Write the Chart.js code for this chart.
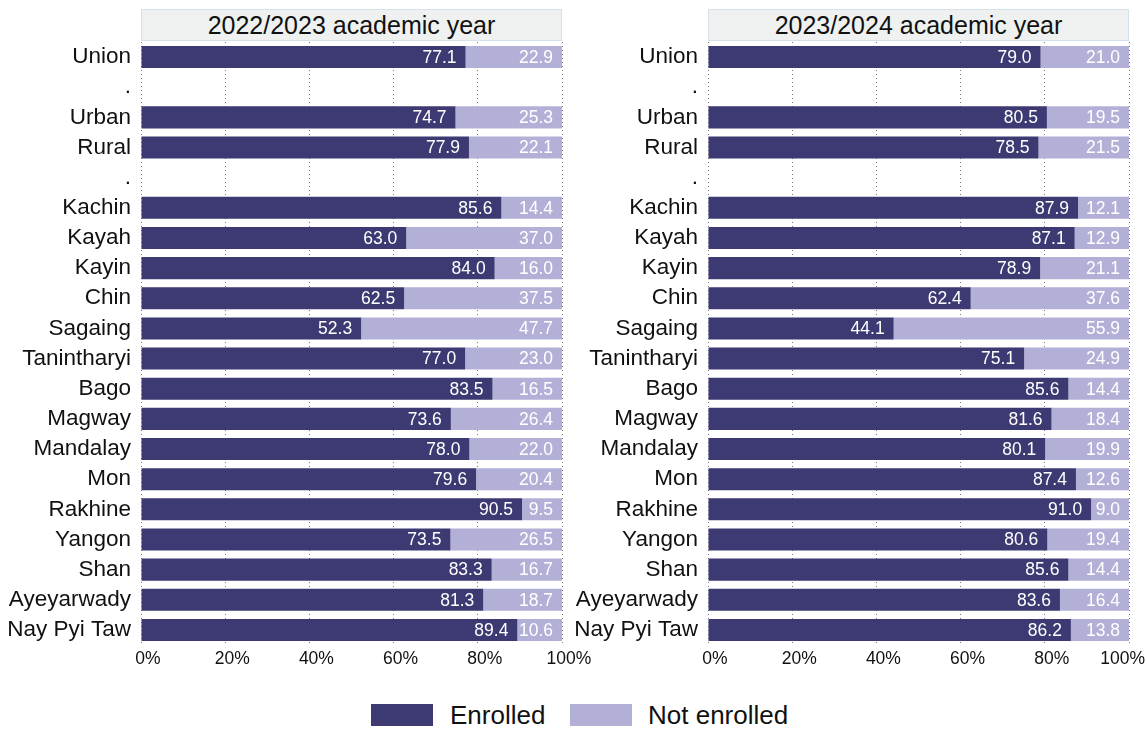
<!DOCTYPE html>
<html>
<head>
<meta charset="utf-8">
<script src="https://cdn.jsdelivr.net/npm/chart.js@4"></script>
<style>
  html, body { margin: 0; padding: 0; background: #ffffff; overflow: hidden; width: 1147px; height: 733px; }
  body { position: relative; font-family: "Liberation Sans", Arial, sans-serif; color: #111; }
  canvas { position: absolute; top: 0; }
  .panel-title {
    position: absolute; top: 9px; width: 419px; height: 30px;
    background: #eff1f0; border: 1px solid #d4e3e9;
    font-size: 25px; line-height: 31px; text-align: center;
  }
  .legend { position: absolute; top: 702px; left: 0; width: 1147px; font-size: 26px; }
  .legend .box { position: absolute; top: 2px; width: 62px; height: 22px; }
  .legend .txt { position: absolute; top: -2px; line-height: 30px; }
</style>
</head>
<body>
<div class="panel-title" style="left:141px">2022/2023 academic year</div>
<div class="panel-title" style="left:708px">2023/2024 academic year</div>
<canvas id="chartLeft" width="600" height="680" style="left:0px"></canvas>
<canvas id="chartRight" width="600" height="680" style="left:567px"></canvas>
<div class="legend">
  <div class="box" style="left:371px;background:#3d3a73"></div>
  <div class="txt" style="left:450px">Enrolled</div>
  <div class="box" style="left:570px;background:#b3b0d8"></div>
  <div class="txt" style="left:648px">Not enrolled</div>
</div>
<script>
// rows, with "." as empty spacer rows
const regions = ['Union', '.', 'Urban', 'Rural', '.', 'Kachin', 'Kayah', 'Kayin', 'Chin', 'Sagaing',
  'Tanintharyi', 'Bago', 'Magway', 'Mandalay', 'Mon', 'Rakhine', 'Yangon', 'Shan', 'Ayeyarwady', 'Nay Pyi Taw'];

// 2022/2023 (%)
const enrolled2022 = [77.1, null, 74.7, 77.9, null, 85.6, 63.0, 84.0, 62.5, 52.3,
  77.0, 83.5, 73.6, 78.0, 79.6, 90.5, 73.5, 83.3, 81.3, 89.4];
const notEnrolled2022 = [22.9, null, 25.3, 22.1, null, 14.4, 37.0, 16.0, 37.5, 47.7,
  23.0, 16.5, 26.4, 22.0, 20.4, 9.5, 26.5, 16.7, 18.7, 10.6];

// 2023/2024 (%)
const enrolled2023 = [79.0, null, 80.5, 78.5, null, 87.9, 87.1, 78.9, 62.4, 44.1,
  75.1, 85.6, 81.6, 80.1, 87.4, 91.0, 80.6, 85.6, 83.6, 86.2];
const notEnrolled2023 = [21.0, null, 19.5, 21.5, null, 12.1, 12.9, 21.1, 37.6, 55.9,
  24.9, 14.4, 18.4, 19.9, 12.6, 9.0, 19.4, 14.4, 16.4, 13.8];

const xTicks = [0, 20, 40, 60, 80, 100];

const DARK = '#3d3a73';
const LIGHT = '#b3b0d8';
const FONT = '"Liberation Sans", Arial, sans-serif';

// writes each value at the right end of its segment
const barLabels = {
  id: 'barLabels',
  afterDatasetsDraw(chart) {
    const ctx = chart.ctx;
    ctx.save();
    ctx.font = '17.5px ' + FONT;
    ctx.fillStyle = '#ffffff';
    ctx.textAlign = 'right';
    ctx.textBaseline = 'middle';
    chart.data.datasets.forEach((ds, i) => {
      chart.getDatasetMeta(i).data.forEach((bar, j) => {
        const v = ds.data[j];
        if (v == null) return;
        ctx.fillText(v.toFixed(1), bar.x - 9, bar.y + 1);
      });
    });
    ctx.restore();
  }
};

// pulls an x tick label back inside the page when it would run past the edge
function keepTicksInside(maxRight) {
  return {
    id: 'keepTicksInside',
    beforeDraw(chart) {
      const scale = chart.scales.x;
      const items = scale.getLabelItems();
      const ctx = chart.ctx;
      ctx.save();
      ctx.font = '17.5px ' + FONT;
      items.forEach(item => {
        const w = ctx.measureText(item.label).width;
        const t = item.options.translation;
        if (t[0] + w / 2 > maxRight) {
          item.options.textAlign = 'right';
          t[0] = maxRight;
        }
      });
      ctx.restore();
    }
  };
}

function makePanel(canvasId, enrolled, notEnrolled, maxRight) {
  const ctx = document.getElementById(canvasId).getContext('2d');
  return new Chart(ctx, {
    type: 'bar',
    data: {
      labels: regions,
      datasets: [
        { label: 'Enrolled', data: enrolled, backgroundColor: DARK,
          categoryPercentage: 0.73, barPercentage: 1 },
        { label: 'Not enrolled', data: notEnrolled, backgroundColor: LIGHT,
          categoryPercentage: 0.73, barPercentage: 1 }
      ]
    },
    options: {
      indexAxis: 'y',
      responsive: false,
      animation: false,
      devicePixelRatio: 1,
      layout: { padding: { top: 42, right: 38, bottom: 0, left: 0 } },
      plugins: {
        legend: { display: false },
        tooltip: { enabled: false }
      },
      scales: {
        x: {
          stacked: true,
          min: 0,
          max: 100,
          afterBuildTicks: (scale) => { scale.ticks = xTicks.map(v => ({ value: v })); },
          afterFit: (scale) => { scale.height = 35; },
          grid: {
            color: '#7a7a7a',
            lineWidth: 1,
            drawTicks: false,
            borderDash: [1, 3]
          },
          border: { display: false, dash: [1, 3] },
          ticks: {
            padding: 4,
            labelOffset: 7,
            color: '#111',
            font: { family: FONT, size: 17.5 },
            callback: (v) => v + '%'
          }
        },
        y: {
          stacked: true,
          afterFit: (scale) => { scale.width = 141; },
          grid: { display: false, drawTicks: false },
          border: { display: false },
          ticks: {
            padding: 10,
            color: '#111',
            font: { family: FONT, size: 22.5 }
          }
        }
      }
    },
    plugins: [barLabels, keepTicksInside(maxRight)]
  });
}

makePanel('chartLeft', enrolled2022, notEnrolled2022, 600);
makePanel('chartRight', enrolled2023, notEnrolled2023, 1145 - 567);
</script>
</body>
</html>
